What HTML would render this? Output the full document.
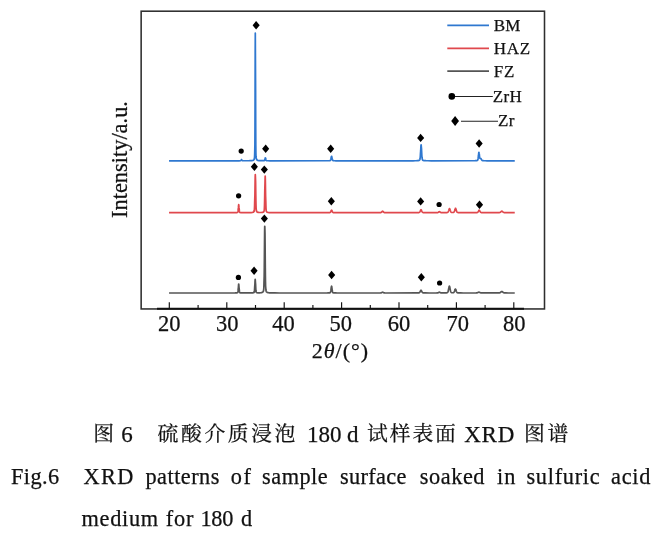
<!DOCTYPE html>
<html><head><meta charset="utf-8"><title>Fig.6</title>
<style>
html,body{margin:0;padding:0;background:#fff;}
body{width:663px;height:537px;position:relative;overflow:hidden;font-family:"Liberation Serif","Noto Serif CJK SC",serif;color:#111;}
svg{position:absolute;left:0;top:0;}
svg text{font-family:"Liberation Serif",serif;fill:#111;stroke:#111;stroke-width:0.25px;}
.cap{-webkit-text-stroke:0.25px #111;position:absolute;white-space:nowrap;font-size:22.3px;line-height:24px;letter-spacing:0.5px;}
.cap span{position:absolute;top:0;white-space:nowrap;}
.cn span{top:2px;}
.la{font-family:'Liberation Serif',serif;font-size:23px;top:2.6px !important;}
.cn{font-family:"Liberation Serif","Noto Serif CJK SC",serif;font-size:20.8px;letter-spacing:2.6px;}
</style></head><body>
<svg width="663" height="537" viewBox="0 0 663 537">
<rect x="141.15" y="11.2" width="403.35" height="297.75" fill="none" stroke="#2e2e2e" stroke-width="1.55"/>
<path d="M157,308.75 H524" stroke="#111" stroke-width="2" fill="none"/>
<path d="M169.3,308.8 v-6.6 M198.1,308.8 v-3.8 M226.8,308.8 v-6.6 M255.5,308.8 v-3.8 M284.2,308.8 v-6.6 M312.9,308.8 v-3.8 M341.6,308.8 v-6.6 M370.3,308.8 v-3.8 M399.0,308.8 v-6.6 M427.7,308.8 v-3.8 M456.4,308.8 v-6.6 M485.1,308.8 v-3.8 M513.8,308.8 v-6.6" stroke="#111" stroke-width="1.15" fill="none"/>
<g font-size="22.5"><text x="169.2" y="331" text-anchor="middle">20</text><text x="227.3" y="331" text-anchor="middle">30</text><text x="283.4" y="331" text-anchor="middle">40</text><text x="340.7" y="331" text-anchor="middle">50</text><text x="398.9" y="331" text-anchor="middle">60</text><text x="457.7" y="331" text-anchor="middle">70</text><text x="514.2" y="331" text-anchor="middle">80</text></g>
<text x="340.4" y="358" font-size="22" letter-spacing="1" text-anchor="middle">2<tspan font-style="italic">θ</tspan>/(°)</text>
<text transform="translate(126.7,159.5) rotate(-90)" font-size="22.4" text-anchor="middle">Intensity/a.u.</text>
<path d="M169.9,293.00 L233.1,292.98 L235.0,292.96 L235.8,292.93 L236.3,292.91 L236.6,292.88 L236.9,292.85 L237.0,292.83 L237.1,292.81 L237.2,292.78 L237.3,292.75 L237.4,292.70 L237.5,292.61 L237.7,292.48 L237.8,292.24 L237.9,291.83 L238.0,291.17 L238.1,290.18 L238.2,288.87 L238.4,287.30 L238.5,285.72 L238.6,284.47 L238.7,283.99 L238.8,284.47 L238.9,285.72 L239.0,287.30 L239.2,288.87 L239.3,290.18 L239.4,291.16 L239.5,291.83 L239.6,292.24 L239.7,292.48 L239.8,292.61 L240.0,292.69 L240.1,292.75 L240.2,292.78 L240.3,292.81 L240.4,292.83 L240.6,292.86 L240.9,292.89 L241.2,292.91 L241.7,292.93 L242.6,292.96 L251.1,292.93 L251.8,292.91 L252.2,292.89 L252.6,292.87 L252.8,292.85 L253.0,292.82 L253.3,292.78 L253.4,292.76 L253.5,292.73 L253.6,292.70 L253.7,292.65 L253.8,292.60 L253.9,292.52 L254.1,292.40 L254.2,292.19 L254.3,291.83 L254.4,291.22 L254.5,290.22 L254.6,288.75 L254.7,286.77 L254.9,284.43 L255.0,282.05 L255.1,280.18 L255.2,279.46 L255.3,280.18 L255.4,282.04 L255.6,284.42 L255.7,286.76 L255.8,288.74 L255.9,290.21 L256.0,291.20 L256.1,291.82 L256.2,292.17 L256.4,292.38 L256.5,292.50 L256.6,292.57 L256.7,292.63 L256.8,292.67 L256.9,292.70 L257.0,292.73 L257.2,292.75 L257.4,292.78 L257.6,292.80 L258.0,292.82 L260.1,292.80 L260.5,292.77 L260.7,292.75 L260.9,292.73 L261.2,292.69 L261.4,292.66 L261.5,292.64 L261.6,292.61 L261.7,292.58 L261.9,292.55 L262.0,292.52 L262.1,292.48 L262.2,292.44 L262.3,292.39 L262.4,292.33 L262.5,292.26 L262.7,292.19 L262.8,292.10 L262.9,291.99 L263.0,291.87 L263.1,291.72 L263.2,291.53 L263.3,291.29 L263.5,290.97 L263.6,290.49 L263.7,289.71 L263.8,288.35 L263.9,285.99 L264.0,282.04 L264.2,275.93 L264.3,267.28 L264.4,256.33 L264.5,244.25 L264.6,233.24 L264.7,226.42 L264.8,226.42 L265.0,233.24 L265.1,244.25 L265.2,256.34 L265.3,267.28 L265.4,275.93 L265.5,282.05 L265.6,285.99 L265.8,288.35 L265.9,289.71 L266.0,290.50 L266.1,290.98 L266.2,291.30 L266.3,291.54 L266.4,291.72 L266.6,291.87 L266.7,292.00 L266.8,292.10 L266.9,292.19 L267.0,292.27 L267.1,292.34 L267.2,292.40 L267.4,292.45 L267.5,292.49 L267.6,292.53 L267.7,292.57 L267.8,292.60 L267.9,292.62 L268.0,292.65 L268.2,292.67 L268.3,292.69 L268.5,292.73 L268.7,292.76 L269.0,292.78 L269.2,292.81 L269.5,292.83 L269.9,292.85 L270.3,292.88 L270.9,292.90 L271.7,292.92 L272.9,292.94 L274.8,292.96 L279.3,292.98 L327.4,292.96 L328.2,292.94 L328.8,292.91 L329.2,292.89 L329.4,292.87 L329.6,292.83 L329.7,292.81 L329.9,292.79 L330.0,292.75 L330.1,292.69 L330.2,292.61 L330.3,292.48 L330.4,292.29 L330.5,292.01 L330.7,291.62 L330.8,291.09 L330.9,290.41 L331.0,289.60 L331.1,288.70 L331.2,287.79 L331.3,286.98 L331.5,286.41 L331.6,286.20 L331.7,286.41 L331.8,286.98 L331.9,287.79 L332.0,288.70 L332.1,289.60 L332.3,290.41 L332.4,291.09 L332.5,291.62 L332.6,292.01 L332.7,292.29 L332.8,292.48 L332.9,292.61 L333.1,292.69 L333.2,292.75 L333.3,292.79 L333.4,292.81 L333.5,292.83 L333.7,292.87 L334.0,292.89 L334.3,292.91 L334.8,292.94 L335.6,292.96 L337.3,292.98 L380.5,292.95 L380.8,292.93 L380.9,292.92 L381.0,292.89 L381.1,292.87 L381.2,292.84 L381.3,292.80 L381.4,292.75 L381.6,292.69 L381.7,292.63 L381.8,292.56 L381.9,292.49 L382.0,292.42 L382.1,292.35 L382.3,292.29 L382.4,292.24 L382.5,292.21 L382.7,292.21 L382.8,292.24 L382.9,292.29 L383.1,292.35 L383.2,292.42 L383.3,292.49 L383.4,292.56 L383.5,292.63 L383.6,292.69 L383.7,292.75 L383.9,292.80 L384.0,292.84 L384.1,292.87 L384.2,292.89 L384.3,292.92 L384.5,292.94 L384.9,292.96 L386.1,292.98 L416.8,292.96 L417.8,292.94 L418.3,292.92 L418.6,292.89 L418.8,292.86 L418.9,292.84 L419.1,292.80 L419.2,292.76 L419.3,292.71 L419.4,292.63 L419.5,292.54 L419.6,292.43 L419.7,292.29 L419.9,292.12 L420.0,291.93 L420.1,291.71 L420.2,291.48 L420.3,291.23 L420.4,290.97 L420.5,290.73 L420.7,290.52 L420.8,290.35 L420.9,290.23 L421.0,290.20 L421.1,290.23 L421.2,290.35 L421.3,290.52 L421.5,290.73 L421.6,290.97 L421.7,291.23 L421.8,291.48 L421.9,291.71 L422.0,291.93 L422.2,292.12 L422.3,292.29 L422.4,292.43 L422.5,292.54 L422.6,292.63 L422.7,292.71 L422.8,292.76 L423.0,292.80 L423.1,292.84 L423.2,292.86 L423.4,292.89 L423.8,292.92 L424.3,292.94 L425.4,292.96 L429.1,292.98 L436.6,292.96 L437.3,292.94 L437.5,292.92 L437.6,292.90 L437.7,292.88 L437.9,292.85 L438.0,292.82 L438.1,292.78 L438.2,292.73 L438.3,292.68 L438.4,292.62 L438.5,292.55 L438.7,292.48 L438.8,292.40 L438.9,292.33 L439.0,292.27 L439.1,292.22 L439.2,292.19 L439.5,292.19 L439.6,292.22 L439.7,292.27 L439.8,292.33 L439.9,292.40 L440.0,292.47 L440.2,292.54 L440.3,292.61 L440.4,292.67 L440.5,292.73 L440.6,292.77 L440.7,292.81 L440.8,292.84 L441.0,292.87 L441.2,292.90 L441.5,292.93 L445.0,292.91 L445.5,292.89 L446.0,292.86 L446.3,292.83 L446.6,292.81 L446.8,292.77 L446.9,292.75 L447.0,292.72 L447.1,292.68 L447.3,292.62 L447.4,292.56 L447.5,292.47 L447.6,292.35 L447.7,292.19 L447.8,292.00 L448.0,291.75 L448.1,291.44 L448.2,291.07 L448.3,290.63 L448.4,290.13 L448.5,289.58 L448.6,288.98 L448.8,288.37 L448.9,287.77 L449.0,287.21 L449.1,286.73 L449.2,286.38 L449.3,286.20 L449.4,286.20 L449.6,286.38 L449.7,286.73 L449.8,287.20 L449.9,287.76 L450.0,288.36 L450.1,288.97 L450.2,289.57 L450.4,290.12 L450.5,290.61 L450.6,291.05 L450.7,291.42 L450.8,291.72 L450.9,291.97 L451.0,292.17 L451.2,292.32 L451.3,292.43 L451.4,292.52 L451.5,292.58 L451.6,292.63 L451.7,292.67 L451.8,292.70 L452.1,292.73 L452.4,292.75 L453.1,292.73 L453.2,292.71 L453.3,292.68 L453.5,292.64 L453.6,292.59 L453.7,292.51 L453.8,292.42 L453.9,292.29 L454.0,292.14 L454.1,291.95 L454.3,291.72 L454.4,291.45 L454.5,291.15 L454.6,290.83 L454.7,290.48 L454.8,290.13 L454.9,289.80 L455.1,289.50 L455.2,289.26 L455.3,289.11 L455.4,289.06 L455.5,289.11 L455.6,289.27 L455.7,289.51 L455.9,289.81 L456.0,290.15 L456.1,290.50 L456.2,290.85 L456.3,291.18 L456.4,291.48 L456.5,291.75 L456.7,291.98 L456.8,292.18 L456.9,292.34 L457.0,292.47 L457.1,292.57 L457.2,292.65 L457.4,292.71 L457.5,292.75 L457.6,292.79 L457.7,292.81 L457.8,292.83 L458.0,292.86 L458.4,292.89 L458.8,292.91 L459.5,292.93 L460.7,292.96 L463.3,292.98 L476.0,292.95 L476.4,292.93 L476.6,292.91 L476.8,292.88 L477.0,292.86 L477.1,292.83 L477.2,292.80 L477.3,292.77 L477.4,292.73 L477.5,292.69 L477.6,292.64 L477.8,292.59 L477.9,292.54 L478.0,292.49 L478.1,292.44 L478.2,292.38 L478.3,292.33 L478.5,292.29 L478.6,292.25 L478.7,292.22 L478.9,292.20 L479.1,292.22 L479.3,292.25 L479.4,292.29 L479.5,292.33 L479.6,292.38 L479.7,292.44 L479.8,292.49 L479.9,292.54 L480.1,292.60 L480.2,292.64 L480.3,292.69 L480.4,292.73 L480.5,292.77 L480.6,292.80 L480.7,292.83 L480.9,292.86 L481.0,292.88 L481.2,292.91 L481.4,292.93 L481.8,292.95 L482.7,292.97 L498.3,292.95 L498.9,292.93 L499.2,292.90 L499.4,292.87 L499.5,292.84 L499.7,292.81 L499.8,292.78 L499.9,292.74 L500.0,292.69 L500.1,292.64 L500.2,292.58 L500.4,292.51 L500.5,292.43 L500.6,292.34 L500.7,292.25 L500.8,292.15 L500.9,292.05 L501.0,291.95 L501.2,291.85 L501.3,291.76 L501.4,291.67 L501.5,291.60 L501.6,291.54 L501.7,291.51 L502.0,291.51 L502.1,291.54 L502.2,291.60 L502.3,291.67 L502.4,291.76 L502.5,291.85 L502.6,291.95 L502.8,292.05 L502.9,292.15 L503.0,292.25 L503.1,292.34 L503.2,292.43 L503.3,292.51 L503.4,292.58 L503.6,292.64 L503.7,292.69 L503.8,292.74 L503.9,292.78 L504.0,292.81 L504.1,292.84 L504.2,292.87 L504.5,292.90 L504.7,292.92 L505.1,292.94 L505.9,292.96 L508.3,292.98 L513.9,292.99" stroke="#555" stroke-width="1.7" fill="none" stroke-linejoin="round" stroke-linecap="square"/>
<path d="M169.9,212.70 L233.2,212.68 L235.1,212.66 L235.9,212.63 L236.4,212.61 L236.7,212.58 L237.0,212.55 L237.1,212.53 L237.2,212.51 L237.3,212.47 L237.4,212.43 L237.5,212.35 L237.7,212.23 L237.8,212.02 L237.9,211.65 L238.0,211.07 L238.1,210.19 L238.2,209.02 L238.4,207.63 L238.5,206.22 L238.6,205.12 L238.7,204.69 L238.8,205.12 L238.9,206.22 L239.0,207.63 L239.2,209.02 L239.3,210.19 L239.4,211.06 L239.5,211.65 L239.6,212.02 L239.7,212.23 L239.8,212.35 L240.0,212.42 L240.1,212.47 L240.2,212.50 L240.3,212.53 L240.5,212.56 L240.8,212.59 L241.1,212.61 L241.6,212.63 L242.5,212.65 L249.2,212.63 L250.2,212.61 L250.7,212.59 L251.2,212.56 L251.5,212.54 L251.9,212.51 L252.1,212.48 L252.3,212.45 L252.5,212.43 L252.6,212.41 L252.7,212.39 L252.8,212.36 L252.9,212.33 L253.0,212.29 L253.1,212.25 L253.3,212.21 L253.4,212.15 L253.5,212.09 L253.6,212.01 L253.7,211.91 L253.8,211.80 L253.9,211.64 L254.1,211.42 L254.2,211.07 L254.3,210.49 L254.4,209.48 L254.5,207.74 L254.6,204.93 L254.7,200.76 L254.9,195.17 L255.0,188.53 L255.1,181.80 L255.2,176.52 L255.3,174.48 L255.4,176.52 L255.6,181.80 L255.7,188.53 L255.8,195.16 L255.9,200.75 L256.0,204.92 L256.1,207.73 L256.2,209.47 L256.4,210.48 L256.5,211.07 L256.6,211.41 L256.7,211.63 L256.8,211.78 L256.9,211.90 L257.0,211.99 L257.2,212.07 L257.3,212.13 L257.4,212.19 L257.5,212.23 L257.6,212.27 L257.7,212.31 L257.8,212.34 L258.0,212.36 L258.1,212.39 L258.3,212.42 L258.5,212.45 L258.8,212.47 L259.1,212.50 L259.6,212.52 L261.5,212.49 L261.9,212.47 L262.1,212.44 L262.3,212.41 L262.4,212.39 L262.5,212.37 L262.7,212.35 L262.8,212.32 L262.9,212.29 L263.0,212.25 L263.1,212.21 L263.2,212.15 L263.3,212.09 L263.5,212.02 L263.6,211.93 L263.7,211.82 L263.8,211.67 L263.9,211.46 L264.0,211.13 L264.2,210.57 L264.3,209.59 L264.4,207.92 L264.5,205.22 L264.6,201.22 L264.7,195.85 L264.8,189.48 L265.0,183.01 L265.1,177.94 L265.2,175.98 L265.3,177.94 L265.4,183.01 L265.5,189.48 L265.6,195.85 L265.8,201.22 L265.9,205.23 L266.0,207.93 L266.1,209.60 L266.2,210.58 L266.3,211.14 L266.4,211.47 L266.6,211.68 L266.7,211.83 L266.8,211.94 L266.9,212.04 L267.0,212.11 L267.1,212.17 L267.2,212.23 L267.4,212.27 L267.5,212.31 L267.6,212.34 L267.7,212.37 L267.8,212.40 L267.9,212.42 L268.0,212.44 L268.3,212.48 L268.5,212.51 L268.7,212.53 L269.1,212.56 L269.4,212.58 L269.9,212.60 L270.6,212.62 L271.6,212.64 L273.3,212.66 L277.8,212.68 L328.5,212.66 L329.2,212.64 L329.5,212.61 L329.7,212.58 L329.9,212.56 L330.0,212.52 L330.1,212.47 L330.2,212.40 L330.3,212.31 L330.4,212.19 L330.5,212.04 L330.7,211.85 L330.8,211.63 L330.9,211.38 L331.0,211.12 L331.1,210.85 L331.2,210.60 L331.3,210.39 L331.5,210.25 L331.6,210.20 L331.7,210.25 L331.8,210.39 L331.9,210.60 L332.0,210.85 L332.1,211.12 L332.3,211.38 L332.4,211.63 L332.5,211.85 L332.6,212.04 L332.7,212.19 L332.8,212.31 L332.9,212.40 L333.1,212.47 L333.2,212.52 L333.3,212.56 L333.4,212.58 L333.6,212.61 L334.0,212.64 L334.6,212.66 L335.8,212.68 L379.8,212.66 L380.3,212.64 L380.5,212.61 L380.6,212.60 L380.8,212.57 L380.9,212.54 L381.0,212.50 L381.1,212.46 L381.2,212.39 L381.3,212.32 L381.4,212.23 L381.6,212.13 L381.7,212.01 L381.8,211.88 L381.9,211.75 L382.0,211.62 L382.1,211.49 L382.3,211.37 L382.4,211.28 L382.5,211.22 L382.6,211.20 L382.7,211.22 L382.8,211.28 L382.9,211.37 L383.1,211.49 L383.2,211.62 L383.3,211.75 L383.4,211.88 L383.5,212.01 L383.6,212.13 L383.7,212.23 L383.9,212.32 L384.0,212.39 L384.1,212.46 L384.2,212.50 L384.3,212.54 L384.4,212.57 L384.5,212.60 L384.8,212.63 L385.1,212.65 L385.9,212.67 L389.0,212.69 L416.2,212.67 L417.5,212.65 L418.1,212.62 L418.5,212.60 L418.7,212.57 L418.8,212.55 L418.9,212.53 L419.1,212.49 L419.2,212.45 L419.3,212.39 L419.4,212.31 L419.5,212.21 L419.6,212.09 L419.7,211.94 L419.9,211.76 L420.0,211.55 L420.1,211.32 L420.2,211.07 L420.3,210.80 L420.4,210.53 L420.5,210.27 L420.7,210.04 L420.8,209.86 L420.9,209.74 L421.0,209.70 L421.1,209.74 L421.2,209.86 L421.3,210.04 L421.5,210.27 L421.6,210.53 L421.7,210.80 L421.8,211.07 L421.9,211.32 L422.0,211.55 L422.2,211.76 L422.3,211.94 L422.4,212.09 L422.5,212.21 L422.6,212.31 L422.7,212.39 L422.8,212.44 L423.0,212.49 L423.1,212.52 L423.2,212.55 L423.4,212.59 L423.6,212.61 L424.1,212.63 L424.8,212.65 L426.3,212.67 L436.9,212.65 L437.3,212.63 L437.5,212.60 L437.6,212.58 L437.7,212.56 L437.9,212.53 L438.0,212.48 L438.1,212.43 L438.2,212.37 L438.3,212.31 L438.4,212.23 L438.5,212.14 L438.7,212.05 L438.8,211.96 L438.9,211.88 L439.0,211.80 L439.1,211.74 L439.2,211.70 L439.5,211.70 L439.6,211.74 L439.7,211.80 L439.8,211.88 L439.9,211.96 L440.0,212.05 L440.2,212.14 L440.3,212.22 L440.4,212.30 L440.5,212.37 L440.6,212.43 L440.7,212.48 L440.8,212.52 L441.0,212.55 L441.1,212.58 L441.3,212.61 L441.6,212.64 L446.0,212.61 L446.5,212.59 L446.8,212.57 L447.0,212.54 L447.1,212.52 L447.3,212.50 L447.4,212.47 L447.5,212.43 L447.6,212.38 L447.7,212.31 L447.8,212.22 L448.0,212.10 L448.1,211.95 L448.2,211.77 L448.3,211.55 L448.4,211.29 L448.5,211.00 L448.6,210.68 L448.8,210.33 L448.9,209.96 L449.0,209.61 L449.1,209.28 L449.2,209.00 L449.3,208.79 L449.4,208.68 L449.6,208.68 L449.7,208.79 L449.8,208.99 L449.9,209.27 L450.0,209.60 L450.1,209.95 L450.2,210.31 L450.4,210.66 L450.5,210.98 L450.6,211.28 L450.7,211.53 L450.8,211.75 L450.9,211.93 L451.0,212.07 L451.2,212.18 L451.3,212.27 L451.4,212.34 L451.5,212.39 L451.6,212.42 L451.7,212.45 L452.0,212.48 L452.4,212.51 L453.0,212.48 L453.2,212.45 L453.3,212.43 L453.5,212.39 L453.6,212.34 L453.7,212.28 L453.8,212.19 L453.9,212.08 L454.0,211.94 L454.1,211.76 L454.3,211.55 L454.4,211.29 L454.5,210.99 L454.6,210.65 L454.7,210.28 L454.8,209.89 L454.9,209.49 L455.1,209.11 L455.2,208.78 L455.3,208.51 L455.4,208.33 L455.5,208.27 L455.6,208.33 L455.7,208.51 L455.9,208.78 L456.0,209.12 L456.1,209.50 L456.2,209.90 L456.3,210.29 L456.4,210.66 L456.5,211.00 L456.7,211.31 L456.8,211.57 L456.9,211.79 L457.0,211.97 L457.1,212.11 L457.2,212.23 L457.4,212.31 L457.5,212.38 L457.6,212.43 L457.7,212.47 L457.8,212.50 L457.9,212.52 L458.2,212.55 L458.4,212.58 L458.7,212.60 L459.2,212.62 L459.9,212.64 L461.1,212.66 L464.6,212.68 L475.4,212.66 L476.3,212.63 L476.7,212.61 L477.0,212.58 L477.1,212.56 L477.2,212.54 L477.3,212.51 L477.4,212.46 L477.5,212.41 L477.6,212.33 L477.8,212.24 L477.9,212.13 L478.0,211.99 L478.1,211.83 L478.2,211.65 L478.3,211.45 L478.5,211.23 L478.6,211.00 L478.7,210.78 L478.8,210.57 L478.9,210.40 L479.0,210.27 L479.1,210.20 L479.3,210.20 L479.4,210.27 L479.5,210.40 L479.6,210.57 L479.7,210.78 L479.8,211.00 L479.9,211.23 L480.1,211.45 L480.2,211.65 L480.3,211.83 L480.4,211.99 L480.5,212.13 L480.6,212.24 L480.7,212.33 L480.9,212.41 L481.0,212.46 L481.1,212.51 L481.2,212.54 L481.3,212.56 L481.5,212.60 L481.9,212.62 L482.5,212.65 L483.6,212.67 L488.4,212.69 L497.5,212.67 L498.5,212.65 L499.0,212.62 L499.2,212.60 L499.4,212.56 L499.5,212.54 L499.7,212.51 L499.8,212.48 L499.9,212.44 L500.0,212.39 L500.1,212.34 L500.2,212.28 L500.4,212.20 L500.5,212.13 L500.6,212.04 L500.7,211.95 L500.8,211.85 L500.9,211.75 L501.0,211.65 L501.2,211.55 L501.3,211.45 L501.4,211.37 L501.5,211.30 L501.6,211.24 L501.7,211.21 L502.0,211.21 L502.1,211.24 L502.2,211.30 L502.3,211.37 L502.4,211.46 L502.5,211.55 L502.6,211.65 L502.8,211.75 L502.9,211.85 L503.0,211.95 L503.1,212.04 L503.2,212.13 L503.3,212.21 L503.4,212.28 L503.6,212.34 L503.7,212.39 L503.8,212.44 L503.9,212.48 L504.0,212.51 L504.1,212.54 L504.2,212.57 L504.5,212.60 L504.7,212.62 L505.1,212.64 L505.9,212.66 L508.3,212.68 L513.9,212.69" stroke="#e0484d" stroke-width="1.7" fill="none" stroke-linejoin="round" stroke-linecap="square"/>
<path d="M169.9,160.80 L239.3,160.78 L240.2,160.76 L240.5,160.72 L240.6,160.69 L240.8,160.63 L240.9,160.55 L241.0,160.41 L241.1,160.24 L241.2,160.03 L241.3,159.82 L241.4,159.65 L241.6,159.59 L241.7,159.65 L241.8,159.82 L241.9,160.03 L242.0,160.24 L242.1,160.41 L242.3,160.54 L242.4,160.63 L242.5,160.69 L242.6,160.72 L242.8,160.75 L243.5,160.77 L248.8,160.74 L249.8,160.72 L250.5,160.70 L251.0,160.68 L251.3,160.66 L251.7,160.63 L251.9,160.61 L252.1,160.58 L252.3,160.54 L252.5,160.52 L252.6,160.50 L252.7,160.47 L252.8,160.44 L252.9,160.41 L253.0,160.37 L253.1,160.32 L253.3,160.27 L253.4,160.21 L253.5,160.13 L253.6,160.04 L253.7,159.93 L253.8,159.80 L253.9,159.63 L254.1,159.42 L254.2,159.14 L254.3,158.77 L254.4,158.27 L254.5,157.51 L254.6,156.17 L254.7,153.00 L254.9,144.69 L255.0,125.52 L255.1,92.05 L255.2,52.68 L255.3,33.00 L255.4,52.68 L255.6,92.05 L255.7,125.52 L255.8,144.69 L255.9,153.00 L256.0,156.17 L256.1,157.51 L256.2,158.27 L256.4,158.77 L256.5,159.14 L256.6,159.42 L256.7,159.63 L256.8,159.80 L256.9,159.93 L257.0,160.04 L257.2,160.13 L257.3,160.21 L257.4,160.27 L257.5,160.32 L257.6,160.37 L257.7,160.41 L257.8,160.44 L258.0,160.47 L258.1,160.50 L258.2,160.52 L258.3,160.54 L258.5,160.58 L258.8,160.60 L259.0,160.63 L259.3,160.65 L259.7,160.67 L260.1,160.70 L260.8,160.72 L263.9,160.69 L264.0,160.68 L264.2,160.66 L264.3,160.63 L264.4,160.57 L264.5,160.46 L264.6,160.29 L264.7,160.02 L264.8,159.63 L265.0,159.15 L265.1,158.61 L265.2,158.12 L265.3,157.82 L265.4,157.82 L265.5,158.12 L265.6,158.61 L265.8,159.15 L265.9,159.64 L266.0,160.02 L266.1,160.29 L266.2,160.47 L266.3,160.57 L266.4,160.64 L266.6,160.67 L266.7,160.69 L266.9,160.72 L267.2,160.74 L267.9,160.76 L270.0,160.78 L328.2,160.76 L328.9,160.74 L329.4,160.71 L329.6,160.69 L329.9,160.66 L330.0,160.63 L330.1,160.60 L330.2,160.54 L330.3,160.46 L330.4,160.33 L330.5,160.15 L330.7,159.89 L330.8,159.53 L330.9,159.09 L331.0,158.55 L331.1,157.95 L331.2,157.35 L331.3,156.82 L331.5,156.44 L331.6,156.30 L331.7,156.44 L331.8,156.82 L331.9,157.35 L332.0,157.95 L332.1,158.55 L332.3,159.09 L332.4,159.53 L332.5,159.89 L332.6,160.15 L332.7,160.33 L332.8,160.46 L332.9,160.54 L333.1,160.60 L333.2,160.63 L333.3,160.66 L333.5,160.69 L333.7,160.71 L334.1,160.73 L334.7,160.75 L335.8,160.78 L341.9,160.80 L413.1,160.78 L415.3,160.75 L416.3,160.73 L417.0,160.71 L417.5,160.69 L417.8,160.66 L418.0,160.64 L418.3,160.61 L418.5,160.58 L418.6,160.56 L418.7,160.54 L418.8,160.52 L418.9,160.49 L419.1,160.45 L419.2,160.41 L419.3,160.36 L419.4,160.30 L419.5,160.21 L419.6,160.08 L419.7,159.88 L419.9,159.59 L420.0,159.14 L420.1,158.48 L420.2,157.55 L420.3,156.30 L420.4,154.70 L420.5,152.80 L420.7,150.69 L420.8,148.54 L420.9,146.64 L421.0,145.29 L421.1,144.80 L421.2,145.29 L421.3,146.64 L421.5,148.54 L421.6,150.69 L421.7,152.80 L421.8,154.70 L421.9,156.30 L422.0,157.55 L422.2,158.48 L422.3,159.14 L422.4,159.59 L422.5,159.88 L422.6,160.08 L422.7,160.21 L422.8,160.30 L423.0,160.36 L423.1,160.41 L423.2,160.45 L423.3,160.49 L423.4,160.52 L423.5,160.54 L423.6,160.56 L423.9,160.60 L424.1,160.63 L424.3,160.65 L424.7,160.68 L425.0,160.70 L425.6,160.72 L426.4,160.74 L427.8,160.76 L431.3,160.78 L473.4,160.76 L474.7,160.74 L475.4,160.72 L475.8,160.70 L476.2,160.67 L476.4,160.65 L476.6,160.63 L476.8,160.59 L477.0,160.57 L477.1,160.54 L477.2,160.50 L477.3,160.45 L477.4,160.39 L477.5,160.28 L477.6,160.13 L477.8,159.89 L477.9,159.55 L478.0,159.07 L478.1,158.42 L478.2,157.59 L478.3,156.61 L478.5,155.51 L478.6,154.39 L478.7,153.39 L478.8,152.67 L478.9,152.37 L479.0,152.57 L479.1,153.18 L479.3,154.07 L479.4,155.06 L479.5,156.01 L479.6,156.84 L479.7,157.48 L479.8,157.94 L479.9,158.22 L480.1,158.36 L480.2,158.40 L480.3,158.38 L480.4,158.35 L480.5,158.33 L480.6,158.34 L480.7,158.41 L480.9,158.52 L481.0,158.68 L481.1,158.86 L481.2,159.07 L481.3,159.28 L481.4,159.48 L481.5,159.68 L481.7,159.86 L481.8,160.02 L481.9,160.16 L482.0,160.27 L482.1,160.37 L482.2,160.44 L482.3,160.50 L482.5,160.55 L482.6,160.59 L482.7,160.62 L482.8,160.64 L483.0,160.67 L483.3,160.69 L483.6,160.71 L484.2,160.73 L485.1,160.76 L487.0,160.78 L497.9,160.80 L513.9,160.80" stroke="#2f78d0" stroke-width="1.7" fill="none" stroke-linejoin="round" stroke-linecap="square"/>
<path d="M447.3,25.4 H489" stroke="#2f78d0" stroke-width="1.7"/>
<path d="M447.3,48.4 H489" stroke="#e0484d" stroke-width="1.7"/>
<path d="M447.3,71.2 H489" stroke="#555" stroke-width="1.7"/>
<path d="M451.6,96.5 H492.8" stroke="#222" stroke-width="1.1"/>
<path d="M461,121.3 H498" stroke="#222" stroke-width="1.1"/>
<g fill="#000"><path d="M256.1,21.1 L259.7,25.3 L256.1,29.5 L252.6,25.3Z"/><circle cx="241.2" cy="151.1" r="2.62"/><path d="M265.7,144.6 L269.2,148.8 L265.7,153.0 L262.1,148.8Z"/><path d="M330.7,144.6 L334.2,148.8 L330.7,153.0 L327.1,148.8Z"/><path d="M420.6,133.7 L424.2,137.9 L420.6,142.1 L417.1,137.9Z"/><path d="M479.1,139.3 L482.7,143.5 L479.1,147.7 L475.6,143.5Z"/><circle cx="238.6" cy="195.8" r="2.62"/><path d="M254.4,162.6 L257.9,166.8 L254.4,171.0 L250.8,166.8Z"/><path d="M264.3,165.4 L267.9,169.6 L264.3,173.8 L260.8,169.6Z"/><path d="M331.3,197.0 L334.9,201.2 L331.3,205.4 L327.8,201.2Z"/><path d="M420.6,197.2 L424.2,201.4 L420.6,205.6 L417.1,201.4Z"/><circle cx="439.1" cy="204.5" r="2.62"/><path d="M479.5,200.5 L483.1,204.7 L479.5,208.9 L475.9,204.7Z"/><circle cx="238.4" cy="277.4" r="2.62"/><path d="M254.1,266.6 L257.6,270.8 L254.1,275.0 L250.5,270.8Z"/><path d="M264.4,214.4 L267.9,218.6 L264.4,222.8 L260.8,218.6Z"/><path d="M331.6,270.8 L335.2,275.0 L331.6,279.2 L328.1,275.0Z"/><path d="M421.3,273.0 L424.9,277.2 L421.3,281.4 L417.8,277.2Z"/><circle cx="439.6" cy="283.0" r="2.62"/><circle cx="451.8" cy="96.4" r="3.3"/><path d="M455.1,116.1 L459.0,121.0 L455.1,125.9 L451.2,121.0Z"/></g>
<g font-size="17" letter-spacing="0.3">
<text x="493.7" y="31.4">BM</text>
<text x="493.7" y="54.2" letter-spacing="0.8">HAZ</text>
<text x="493.7" y="77" letter-spacing="0.8">FZ</text>
<text x="492.8" y="101.5">ZrH</text>
<text x="498" y="126">Zr</text>
</g>
</svg>
<div class="cap cn" style="left:0;top:420px;width:663px;height:28px;">
<span style="left:93.3px;">图</span><span class="la" style="left:121.3px;">6</span><span style="left:157.6px;">硫酸介质浸泡</span><span class="la" style="left:307.1px;letter-spacing:0px;">180</span><span class="la" style="left:346.9px;">d</span><span style="left:367px;letter-spacing:1.9px;">试样表面</span><span class="la" style="left:464.2px;letter-spacing:0.8px;">XRD</span><span style="left:524px;">图谱</span>
</div>
<div class="cap" style="left:0;top:465px;width:663px;height:26px;">
<span style="left:11.0px;letter-spacing:0.4px;">Fig.6</span><span style="left:83.5px;letter-spacing:1.45px;">XRD</span><span style="left:145.5px;letter-spacing:0.47px;">patterns</span><span style="left:230.8px;letter-spacing:1.5px;">of</span><span style="left:262.1px;letter-spacing:0.48px;">sample</span><span style="left:339.9px;letter-spacing:0.35px;">surface</span><span style="left:419.7px;letter-spacing:0.58px;">soaked</span><span style="left:497.0px;letter-spacing:1.1px;">in</span><span style="left:526.4px;letter-spacing:0.74px;">sulfuric</span><span style="left:611.0px;letter-spacing:0.77px;">acid</span>
</div>
<div class="cap" style="left:0;top:506.5px;width:663px;height:26px;">
<span style="left:81.6px;letter-spacing:0.68px;">medium</span><span style="left:165.7px;letter-spacing:0.85px;">for</span><span style="left:200.5px;letter-spacing:-0.3px;">180</span><span style="left:240.9px;letter-spacing:0px;">d</span>
</div>
</body></html>
